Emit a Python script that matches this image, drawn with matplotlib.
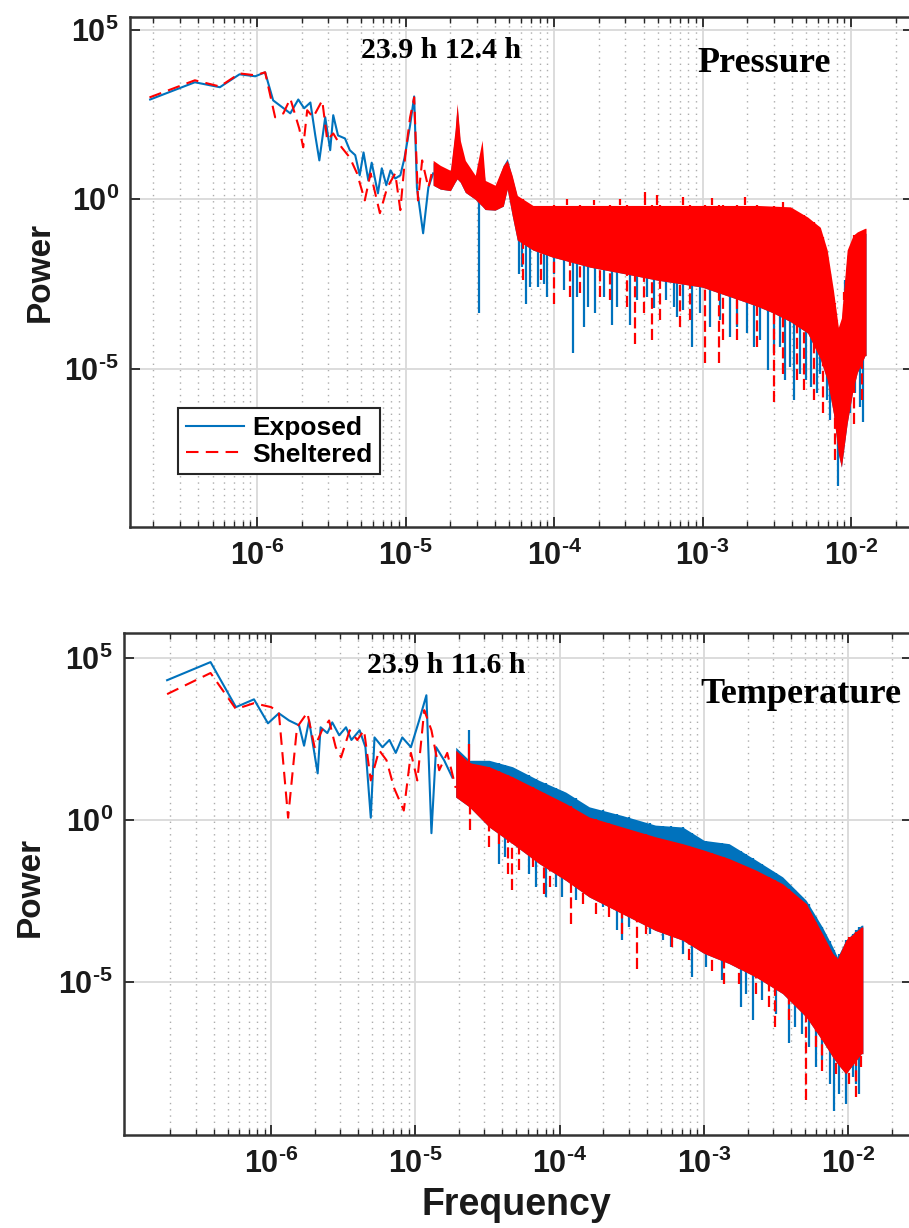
#圧力と温度のパワースペクトル（Exposed / Sheltered）を上下2段で描画
#密な高周波部分は上下の包絡線とスパイクで表現

import numpy as np
import matplotlib.pyplot as plt
from matplotlib.ticker import FixedLocator, FixedFormatter, LogLocator, NullLocator

plt.rcParams['font.family'] = ['Liberation Sans', 'DejaVu Sans']
plt.rcParams['font.weight'] = 'bold'
plt.rcParams['mathtext.fontset'] = 'custom'
plt.rcParams['mathtext.rm'] = 'Liberation Sans:bold'
plt.rcParams['mathtext.bf'] = 'Liberation Sans:bold'
plt.rcParams['mathtext.it'] = 'Liberation Sans:bold'

BLUE = '#0072BD'
RED = '#FF0000'

# ---------------- Pressure (上段) ----------------
#低周波部分の折れ線
top_lo_f_blue = [1.9e-7, 3.8e-7, 5.6e-7, 7.6e-7, 9.7e-7, 1.13e-6, 1.28e-6, 1.67e-6, 1.89e-6, 2.07e-6,
                 2.28e-6, 2.46e-6, 2.62e-6, 2.87e-6, 3.1e-6, 3.25e-6, 3.5e-6, 3.9e-6, 4.2e-6, 4.57e-6,
                 4.9e-6, 5.2e-6, 5.6e-6, 5.9e-6, 6.5e-6, 6.9e-6, 7.4e-6, 7.9e-6, 8.5e-6, 9.2e-6,
                 9.8e-6, 1.07e-5, 1.14e-5, 1.19e-5, 1.31e-5, 1.42e-5, 1.53e-5]
top_lo_p_blue = [870, 2800, 2000, 4800, 4200, 5500, 820, 340, 870, 480,
                 710, 76, 14, 260, 28, 300, 76, 62, 28, 20,
                 5.1, 24, 3.6, 12, 1.5, 8.2, 2.6, 7.1, 4.1, 5.1,
                 16, 150, 1070, 2.2, 0.1, 2.2, 5.8]
top_lo_f_red = [1.88e-7, 3.8e-7, 5.6e-7, 7.6e-7, 9.7e-7, 1.13e-6, 1.32e-6, 1.5e-6, 1.67e-6, 1.92e-6,
                2.04e-6, 2.17e-6, 2.38e-6, 2.74e-6, 2.96e-6, 3.25e-6, 3.7e-6, 4.2e-6, 4.7e-6, 5.3e-6,
                5.8e-6, 6.7e-6, 7.5e-6, 8.5e-6, 9.2e-6, 9.9e-6, 1.07e-5, 1.14e-5, 1.21e-5, 1.29e-5,
                1.42e-5, 1.53e-5]
top_lo_p_red = [1000, 3200, 2100, 5100, 4500, 5500, 260, 340, 930, 120,
                34, 420, 260, 820, 55, 87, 34, 17, 5.8, 0.93,
                5.8, 0.39, 2.2, 5.8, 0.48, 17, 260, 1000, 0.93, 14,
                2.2, 8.7]

#高周波部分の包絡線
top_band_f = [1.53e-5, 1.71e-5, 2.0e-5, 2.15e-5, 2.22e-5, 2.33e-5, 2.52e-5, 2.94e-5, 3.27e-5, 3.43e-5,
              4.0e-5, 4.54e-5, 4.83e-5, 5.21e-5, 5.64e-5, 7.2e-5, 9.7e-5, 1.75e-4, 2.9e-4, 4.9e-4,
              9.9e-4, 1.79e-3, 2.33e-3, 2.99e-3, 3.9e-3, 5.1e-3, 6.2e-3, 6.9e-3, 7.6e-3, 8.2e-3,
              8.6e-3, 9.4e-3, 1.03e-2, 1.1e-2, 1.24e-2, 1.26e-2]
top_red_hi = [14, 10, 7.1, 110, 660, 55, 14, 5.1, 55, 3.6,
              2.6, 10, 14, 5.1, 1.3, 0.66, 0.66, 0.66, 0.66, 0.66,
              0.66, 0.66, 0.66, 0.63, 0.6, 0.3, 0.15, 0.032, 2.1e-3, 1.7e-4,
              3.2e-4, 0.032, 0.087, 0.11, 0.14, 0.14]
top_red_lo = [2.6, 2.0, 1.8, 3.2, 4.0, 3.2, 1.6, 1.0, 0.63, 0.5,
              0.48, 0.63, 2.0, 0.34, 0.063, 0.032, 0.02, 0.01, 6.6e-3, 4.2e-3,
              2.6e-3, 1.07e-3, 7.1e-4, 4.5e-4, 2.5e-4, 1.15e-4, 2.0e-5, 4.8e-6, 5.0e-7, 3.2e-8,
              1.3e-8, 2.5e-7, 2.5e-6, 7.9e-6, 2.5e-5, 2.5e-5]
top_blue_hi = [12, 9, 6.3, 90, 560, 40, 12, 4.5, 20, 3.2,
               2.2, 10, 16, 4.5, 1.2, 0.56, 0.56, 0.56, 0.56, 0.56,
               0.56, 0.56, 0.56, 0.5, 0.45, 0.22, 0.1, 0.02, 1.5e-3, 1.2e-4,
               2.2e-4, 0.022, 0.06, 0.08, 0.1, 0.1]
top_blue_lo = [2.6, 2.0, 1.8, 3.2, 4.0, 3.2, 1.6, 1.0, 0.63, 0.5,
               0.48, 0.63, 2.0, 0.34, 0.063, 0.032, 0.02, 0.01, 6.6e-3, 4.2e-3,
               2.6e-3, 1.07e-3, 7.1e-4, 4.5e-4, 2.5e-4, 1.15e-4, 2.0e-5, 4.8e-6, 5.0e-7, 3.2e-8,
               1.3e-8, 2.5e-7, 2.5e-6, 7.9e-6, 2.5e-5, 2.5e-5]

#下向きスパイクの先端
top_spk_f_blue = [3.14e-5, 6.5e-5, 7.8e-5, 8.9e-5, 1.34e-4, 1.58e-4, 1.89e-4, 2.44e-4, 3.25e-4, 4.67e-4,
                  6.7e-4, 8.5e-4, 1.12e-3, 1.53e-3, 2.2e-3, 2.77e-3, 3.6e-3, 4.1e-3, 5.0e-3, 5.9e-3,
                  7.2e-3, 8.2e-3, 9.1e-3, 1.06e-2, 1.21e-2,
                  5.75e-5, 6.05e-5, 6.9e-5, 8.5e-5, 9.9e-5, 1.16e-4, 1.42e-4, 1.7e-4, 2.15e-4, 2.64e-4,
                  3.6e-4, 4.2e-4, 5.7e-4, 6.4e-4, 7.4e-4, 9.6e-4, 1.31e-3, 1.7e-3, 1.99e-3, 2.44e-3,
                  3.0e-3, 3.3e-3, 3.9e-3, 4.5e-3, 5.4e-3, 6.2e-3, 6.9e-3, 9.8e-3, 1.15e-2]
top_spk_p_blue = [4.4e-4, 8.5e-4, 2.6e-3, 1.35e-3, 2.9e-5, 1.75e-4, 4.4e-4, 1.96e-4, 1.96e-4, 6.1e-4,
                  3.5e-4, 4.5e-5, 1.75e-4, 8.9e-5, 4.5e-5, 9.3e-6, 4.8e-6, 1.23e-6, 4.8e-6, 1.94e-6,
                  3.2e-7, 3.5e-9, 1.3e-7, 1.94e-6, 2.8e-7,
                  6.5e-3, 0.0102, 2.6e-3, 3.3e-3, 6.5e-3, 2.1e-3, 1.35e-3, 6.8e-4, 1.35e-3, 6.8e-4,
                  1.07e-3, 1.35e-3, 1.07e-3, 6.8e-4, 5.5e-4, 4.4e-4, 2.8e-4, 1.75e-4, 1.12e-4, 7.1e-5,
                  2.9e-5, 4.5e-5, 1.17e-5, 7.4e-6, 3.0e-6, 7.4e-6, 1.23e-6, 5.0e-7, 7.8e-7]
top_spk_f_red = [9.9e-5, 3.5e-4, 4.55e-4, 1.04e-3, 1.28e-3, 3.0e-3, 4.8e-3, 7.8e-3,
                 6.2e-5, 8.1e-5, 1.28e-4, 1.5e-4, 2.04e-4, 2.38e-4, 3.1e-4, 4.0e-4, 5.2e-4, 7.0e-4,
                 8.2e-4, 1.38e-3, 1.7e-3, 2.32e-3, 3.5e-3, 4.3e-3, 5.6e-3, 6.5e-3, 8.9e-3, 1.04e-2,
                 1.18e-2]
top_spk_p_red = [8.5e-4, 5.6e-5, 7.1e-5, 1.47e-5, 1.47e-5, 1.1e-6, 2.4e-6, 2.1e-8,
                 4.1e-3, 4.1e-3, 1.35e-3, 1.7e-3, 1.35e-3, 1.07e-3, 6.8e-4, 4.4e-4, 2.8e-4, 1.75e-4,
                 2.8e-4, 7.1e-5, 7.1e-5, 4.5e-5, 7.4e-6, 4.8e-6, 1.23e-6, 5.0e-7, 8.1e-8, 2.5e-7,
                 1.23e-6]
#上向きスパイクの先端
top_up_f_red = [1.22e-4, 1.84e-4, 2.78e-4, 4.1e-4, 4.9e-4, 7.4e-4, 1.15e-3, 1.93e-3, 3.5e-3]
top_up_p_red = [1.05, 0.98, 1.05, 1.6, 1.3, 1.2, 1.1, 1.2, 0.83]
top_up_f_blue = []
top_up_p_blue = []

# ---------------- Temperature (下段) ----------------
bot_lo_f_blue = [1.9e-7, 3.8e-7, 5.7e-7, 7.6e-7, 9.5e-7, 1.13e-6, 1.33e-6, 1.56e-6, 1.69e-6, 1.83e-6,
                 2.1e-6, 2.2e-6, 2.45e-6, 2.65e-6, 2.96e-6, 3.3e-6, 3.6e-6, 4.1e-6, 4.5e-6, 4.9e-6,
                 5.2e-6, 5.9e-6, 6.6e-6, 7.3e-6, 8.1e-6, 9.3e-6, 1.06e-5, 1.19e-5, 1.29e-5, 1.39e-5,
                 1.58e-5, 1.8e-5]
bot_lo_p_blue = [2.1e4, 7.6e4, 3100, 5400, 980, 2000, 1200, 850, 200, 1200,
                 28, 740, 490, 1050, 420, 740, 300, 600, 180, 1.2,
                 360, 180, 300, 120, 360, 180, 1200, 7200, 0.4, 180,
                 71, 21]
bot_lo_f_red = [1.9e-7, 3.8e-7, 5.7e-7, 7.6e-7, 1.0e-6, 1.13e-6, 1.31e-6, 1.51e-6, 1.78e-6, 2.0e-6,
                2.25e-6, 2.52e-6, 2.8e-6, 3.05e-6, 3.5e-6, 3.95e-6, 4.4e-6, 4.9e-6, 5.6e-6, 6.3e-6,
                7.1e-6, 8.3e-6, 9.3e-6, 1.03e-5, 1.15e-5, 1.29e-5, 1.46e-5, 1.66e-5, 1.9e-5]
bot_lo_p_red = [7800, 3.5e4, 2700, 4100, 3100, 2100, 1.2, 740, 2100, 180,
                600, 1200, 180, 87, 600, 300, 600, 17, 145, 71,
                10, 2.0, 120, 17, 2500, 600, 35, 120, 10]

bot_band_f = [1.9e-5, 2.36e-5, 3.24e-5, 4.7e-5, 7.2e-5, 1.1e-4, 1.6e-4, 2.72e-4, 4.6e-4, 7.1e-4,
              1.0e-3, 1.49e-3, 2.29e-3, 3.5e-3, 5.1e-3, 6.6e-3, 7.8e-3, 8.4e-3, 9.6e-3, 1.23e-2,
              1.26e-2]
bot_blue_hi = [180, 71, 71, 45, 17, 7.4, 2.6, 1.4, 0.71, 0.62,
               0.24, 0.19, 0.059, 0.018, 3.4e-3, 5.1e-4, 1.23e-4, 6.0e-5, 2.0e-4, 5.8e-4,
               5.8e-4]
bot_blue_lo = [5.2, 2.6, 0.62, 0.19, 0.046, 0.014, 4.3e-3, 1.3e-3, 4.0e-4, 2.0e-4,
               7.8e-5, 3.8e-5, 1.45e-5, 4.5e-6, 8.5e-7, 1.6e-7, 4.9e-8, 3.1e-8, 1.5e-8, 6.3e-8,
               6.3e-8]
bot_red_hi = [145, 60, 45, 22, 8.5, 3.3, 1.26, 0.62, 0.31, 0.19,
              0.12, 0.066, 0.029, 0.011, 2.7e-3, 3.2e-4, 7.8e-5, 5.4e-5, 2.0e-4, 5.1e-4,
              5.1e-4]
bot_red_lo = [5.2, 2.6, 0.62, 0.19, 0.046, 0.014, 4.3e-3, 1.3e-3, 4.0e-4, 2.0e-4,
              7.8e-5, 3.8e-5, 1.45e-5, 4.5e-6, 8.5e-7, 1.6e-7, 4.9e-8, 3.1e-8, 1.5e-8, 6.3e-8,
              6.3e-8]

bot_spk_f_blue = [3.8e-5, 8.0e-5, 1.04e-4, 2.5e-4, 2.72e-4, 5.9e-4, 8.3e-4, 1.8e-3, 2.17e-3, 3.9e-3,
                  4.8e-3, 6.0e-3, 8.0e-3, 9.6e-3, 1.13e-2,
                  4.2e-5, 6.1e-5, 6.8e-5, 9.4e-5, 1.29e-4, 1.98e-4, 3.0e-4, 4.2e-4, 5.2e-4, 7.1e-4,
                  1.03e-3, 1.34e-3, 1.95e-3, 2.54e-3, 3.14e-3, 4.3e-3, 5.3e-3, 6.6e-3, 7.4e-3, 8.6e-3,
                  1.07e-2, 1.19e-2]
bot_spk_p_blue = [4.6e-2, 4.3e-3, 4.3e-3, 4.0e-4, 2.0e-4, 1.23e-4, 1.45e-5, 1.7e-6, 6.7e-7, 1.3e-7,
                  2.6e-7, 2.4e-8, 1.1e-9, 1.8e-9, 7.4e-9,
                  0.074, 0.022, 8.7e-3, 8.7e-3, 3.4e-3, 2.1e-3, 5.1e-4, 3.2e-4, 2.0e-4, 7.6e-5,
                  3.0e-5, 1.15e-5, 4.5e-6, 2.8e-6, 1.07e-6, 4.2e-7, 1.0e-7, 3.9e-8, 7.4e-9, 3.6e-9,
                  1.2e-8, 3.6e-9]
bot_spk_f_red = [2.4e-5, 4.35e-5, 4.7e-5, 7.8e-5, 1.19e-4, 3.45e-4, 1.38e-3, 3.1e-3, 5.1e-3, 6.6e-3,
                 1.13e-2,
                 3.24e-5, 3.8e-5, 5.2e-5, 6.5e-5, 8.5e-5, 1.44e-4, 1.78e-4, 2.2e-4, 2.72e-4, 3.95e-4,
                 6.0e-4, 7.9e-4, 1.14e-3, 1.75e-3, 2.29e-3, 2.82e-3, 3.9e-3, 6.0e-3, 8.2e-3, 1.01e-2,
                 1.22e-2]
bot_spk_p_red = [0.49, 2.2e-2, 6.9e-3, 5.5e-3, 6.5e-4, 2.6e-5, 9.1e-6, 4.2e-7, 2.3e-9, 1.9e-8,
                 2.9e-9,
                 0.15, 0.19, 0.029, 0.036, 8.7e-3, 2.7e-3, 1.3e-3, 1.05e-3, 3.2e-4, 3.2e-4,
                 1.23e-4, 4.8e-5, 2.3e-5, 9.1e-6, 4.5e-6, 1.7e-6, 6.8e-7, 1.0e-7, 1.5e-8, 7.4e-9,
                 2.4e-8]
bot_up_f_red = [2.36e-5]
bot_up_p_red = [230]
bot_up_f_blue = [2.36e-5]
bot_up_p_blue = [600]

x_ticks = [1e-6, 1e-5, 1e-4, 1e-3, 1e-2]
x_ticklabels = ['$10^{\u20106}$', '$10^{\u20105}$', '$10^{\u20104}$', '$10^{\u20103}$', '$10^{\u20102}$']
y_ticks = [1e-5, 1e0, 1e5]
y_ticklabels = ['$10^{\u20105}$', '$10^{0}$', '$10^{5}$']


#包絡線の値をスパイクの付け根に使う（両対数で補間）
def base_at(f, band_f, env):
    return 10 ** np.interp(np.log10(f), np.log10(band_f), np.log10(env))


#1パネル分のスペクトルを描画
def spectrum(ax, lo_b, lo_r, band_f, b_hi, b_lo, r_hi, r_lo, spk_b, spk_r, up_b, up_r):
    lb, = ax.plot(lo_b[0], lo_b[1], color=BLUE, lw=1.5, zorder=2.5, label='Exposed')
    lr, = ax.plot(lo_r[0], lo_r[1], color=RED, lw=1.5, dashes=(6, 3.5), zorder=3.2,
                  label='Sheltered')
    ax.fill_between(band_f, b_lo, b_hi, color=BLUE, lw=0, zorder=2.1)
    ax.vlines(spk_b[0], spk_b[1], base_at(spk_b[0], band_f, b_hi), color=BLUE, lw=1.6, zorder=2.2)
    ax.vlines(up_b[0], base_at(up_b[0], band_f, b_hi), up_b[1], color=BLUE, lw=1.6, zorder=2.2)
    ax.fill_between(band_f, r_lo, r_hi, color=RED, lw=0, zorder=3)
    ax.vlines(spk_r[0], spk_r[1], base_at(spk_r[0], band_f, r_hi), color=RED, lw=1.6,
              linestyles=(0, (5, 2)), zorder=3.1)
    ax.vlines(up_r[0], base_at(up_r[0], band_f, r_hi), up_r[1], color=RED, lw=1.6, zorder=3.1)
    return lb, lr


#MATLAB風の軸設定
def style_axes(ax, xlim, ylim):
    ax.set_xscale('log')
    ax.set_yscale('log')
    ax.set_xlim(*xlim)
    ax.set_ylim(*ylim)
    ax.xaxis.set_major_locator(FixedLocator(x_ticks))
    ax.xaxis.set_major_formatter(FixedFormatter(x_ticklabels))
    ax.xaxis.set_minor_locator(LogLocator(base=10, subs=range(2, 10), numticks=100))
    ax.yaxis.set_major_locator(FixedLocator(y_ticks))
    ax.yaxis.set_major_formatter(FixedFormatter(y_ticklabels))
    ax.yaxis.set_minor_locator(NullLocator())
    ax.tick_params(which='both', direction='in', top=True, right=True, color='0.15',
                   labelsize=22, labelcolor='0.1')
    ax.tick_params(which='major', length=7, width=1.3)
    ax.tick_params(which='minor', length=4, width=1.0)
    ax.tick_params(axis='x', which='major', pad=10)
    ax.tick_params(axis='y', which='major', pad=8)
    ax.set_axisbelow(True)
    ax.grid(True, which='major', color='0.85', lw=1.3, ls='-')
    ax.grid(True, which='minor', axis='x', color='0.68', lw=1.0, ls=(0, (1, 3.5)))
    for s in ax.spines.values():
        s.set_linewidth(1.8)
        s.set_color('0.2')


fig = plt.figure(figsize=(9.09, 12.28), dpi=100)
ax1 = fig.add_axes([0.14301, 0.57085, 0.86139, 0.41531])
ax2 = fig.add_axes([0.13641, 0.07573, 0.86689, 0.40879])

lb, lr = spectrum(ax1, (top_lo_f_blue, top_lo_p_blue), (top_lo_f_red, top_lo_p_red),
                  top_band_f, top_blue_hi, top_blue_lo, top_red_hi, top_red_lo,
                  (top_spk_f_blue, top_spk_p_blue), (top_spk_f_red, top_spk_p_red),
                  (top_up_f_blue, top_up_p_blue), (top_up_f_red, top_up_p_red))
style_axes(ax1, (1.39e-7, 2.61e-2), (2.24e-10, 2.34e5))

spectrum(ax2, (bot_lo_f_blue, bot_lo_p_blue), (bot_lo_f_red, bot_lo_p_red),
         bot_band_f, bot_blue_hi, bot_blue_lo, bot_red_hi, bot_red_lo,
         (bot_spk_f_blue, bot_spk_p_blue), (bot_spk_f_red, bot_spk_p_red),
         (bot_up_f_blue, bot_up_p_blue), (bot_up_f_red, bot_up_p_red))
style_axes(ax2, (9.55e-8, 2.76e-2), (1.95e-10, 6.0e5))

#凡例
leg = ax1.legend(handles=[lb, lr], loc='upper left', bbox_to_anchor=(0.0613, 0.2333),
                 borderaxespad=0, fancybox=False, edgecolor='0.15', framealpha=1,
                 fontsize=19, handlelength=2.2, handletextpad=0.3, labelspacing=0.1,
                 borderpad=0.3)
leg.get_frame().set_linewidth(1.5)

#注記とラベル
serif = dict(family=['Liberation Serif', 'DejaVu Serif'], weight='bold', color='black')
fig.text(441 / 909, 1 - 58 / 1228, '23.9 h 12.4 h', size=21.5, ha='center', va='baseline', **serif)
fig.text(697 / 909, 1 - 72 / 1228, 'Pressure', size=26, ha='left', va='baseline', **serif)
fig.text(446 / 909, 1 - 673 / 1228, '23.9 h 11.6 h', size=21.5, ha='center', va='baseline', **serif)
fig.text(700 / 909, 1 - 703 / 1228, 'Temperature', size=26, ha='left', va='baseline', **serif)

fig.text(40 / 909, 1 - 272 / 1228, 'Power', size=24, rotation=90, ha='center', va='center',
         color='0.1')
fig.text(30 / 909, 1 - 887 / 1228, 'Power', size=24, rotation=90, ha='center', va='center',
         color='0.1')
fig.text(516 / 909, 1 - 1215 / 1228, 'Frequency', size=27, ha='center', va='baseline',
         color='0.1')

fig.savefig('out.png', dpi=100)
